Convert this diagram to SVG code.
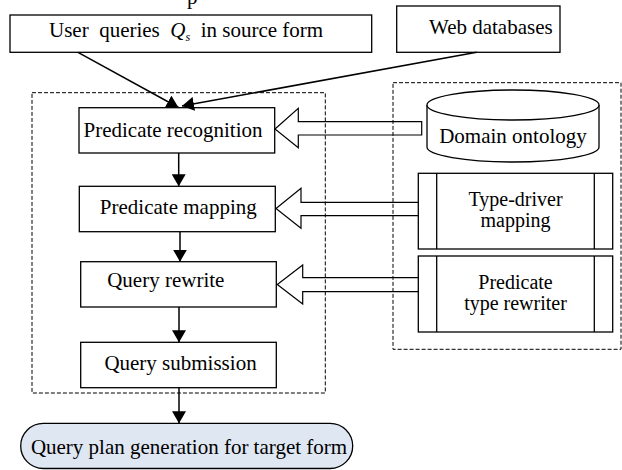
<svg xmlns="http://www.w3.org/2000/svg" width="622" height="470" viewBox="0 0 622 470">
<style>
  .box { fill: #fff; stroke: #000; stroke-width: 1.3; }
  .dash { fill: none; stroke: #000; stroke-width: 1; stroke-dasharray: 4 2; }
  .t { font-family: "Liberation Serif", "Times New Roman", serif; font-size: 21px; fill: #000; }
  .t2 { font-size: 20px; }
  .c { text-anchor: middle; }
  .line { stroke: #000; stroke-width: 1.5; fill: none; }
  .hollow { fill: none; stroke: #000; stroke-width: 1.2; stroke-linejoin: miter; }
</style>
<defs>
  <marker id="ah" markerUnits="userSpaceOnUse" markerWidth="12" markerHeight="14" viewBox="0 0 12 14" refX="12" refY="7" orient="auto">
    <path d="M0,0 L12,7 L0,14 z" fill="#000"/>
  </marker>
</defs>

<text class="t" x="187" y="3.5">p</text>

<!-- containers -->
<rect id="left-container" class="dash" x="32" y="92.7" width="293.3" height="300.3"/>
<rect id="right-container" class="dash" x="393" y="82.7" width="228" height="266.6"/>

<g id="user-queries">
  <rect class="box" x="10" y="15" width="361.7" height="37.3"/>
  <text class="t" x="49" y="36.5" xml:space="preserve">User  queries  <tspan font-style="italic">Q</tspan><tspan font-size="12" font-style="italic" dy="4">s</tspan><tspan dy="-4">  in source form</tspan></text>
</g>

<g id="web-databases">
  <rect class="box" x="396.7" y="6" width="163.3" height="46.3"/>
  <text class="t" x="429" y="34">Web databases</text>
</g>

<g id="predicate-recognition">
  <rect class="box" x="79" y="107.7" width="195.7" height="45.3"/>
  <text class="t c" x="173" y="136.5">Predicate recognition</text>
</g>

<g id="predicate-mapping">
  <rect class="box" x="79.3" y="186.3" width="196" height="45.4"/>
  <text class="t c" x="178.3" y="213.5">Predicate mapping</text>
</g>

<g id="query-rewrite">
  <rect class="box" x="80.7" y="261.7" width="195.6" height="45.3"/>
  <text class="t c" x="165.8" y="286.7">Query rewrite</text>
</g>

<g id="query-submission">
  <rect class="box" x="80.7" y="342.3" width="195.6" height="45.4"/>
  <text class="t c" x="180.5" y="370">Query submission</text>
</g>

<g id="query-plan">
  <rect x="20.7" y="423.3" width="332" height="45.2" rx="22.6" ry="22.6" fill="#dfe7f3" stroke="#000" stroke-width="1.3"/>
  <text class="t c" x="189" y="454.3">Query plan generation for target form</text>
</g>

<g id="domain-ontology">
  <path d="M427,105 L427,147 A86,15 0 0 0 599,147 L599,105" fill="#fff" stroke="#000" stroke-width="1.3"/>
  <ellipse cx="513" cy="105" rx="86" ry="15" fill="#fff" stroke="#000" stroke-width="1.3"/>
  <text class="t c" x="513" y="143">Domain ontology</text>
</g>

<g id="type-driver-mapping">
  <rect class="box" x="418.3" y="173.3" width="194.4" height="75.7"/>
  <line x1="436.7" y1="173.3" x2="436.7" y2="249" stroke="#000" stroke-width="1.3"/>
  <line x1="594.3" y1="173.3" x2="594.3" y2="249" stroke="#000" stroke-width="1.3"/>
  <text class="t t2 c" x="515.5" y="205.5">Type-driver</text>
  <text class="t t2 c" x="515.5" y="226.5">mapping</text>
</g>

<g id="predicate-type-rewriter">
  <rect class="box" x="418.3" y="256" width="194.4" height="76"/>
  <line x1="436.7" y1="256" x2="436.7" y2="332" stroke="#000" stroke-width="1.3"/>
  <line x1="594.3" y1="256" x2="594.3" y2="332" stroke="#000" stroke-width="1.3"/>
  <text class="t t2 c" x="515.5" y="289">Predicate</text>
  <text class="t t2 c" x="515.5" y="310">type rewriter</text>
</g>

<g id="connectors">
  <line class="line" x1="78" y1="52.3" x2="178.5" y2="107.5" marker-end="url(#ah)"/>
  <line class="line" x1="476.7" y1="52.3" x2="182" y2="106" marker-end="url(#ah)"/>
  <line class="line" x1="178.7" y1="153" x2="178.7" y2="186.3" marker-end="url(#ah)"/>
  <line class="line" x1="180" y1="231.7" x2="180" y2="261.7" marker-end="url(#ah)"/>
  <line class="line" x1="179" y1="307" x2="179" y2="342.3" marker-end="url(#ah)"/>
  <line class="line" x1="179" y1="387.7" x2="179" y2="423.3" marker-end="url(#ah)"/>
  <path class="hollow" d="M421.7,121.7 L298.3,121.7 L298.3,108.3 L275,129 L298.3,147.7 L298.3,135 L421.7,135 Z"/>
  <path class="hollow" d="M418.3,202.3 L301,202.3 L301,188.3 L276,208.5 L301,228.3 L301,215.7 L418.3,215.7"/>
  <path class="hollow" d="M418.3,277.7 L302.7,277.7 L302.7,265 L277.3,284.5 L302.7,304 L302.7,291.7 L418.3,291.7"/>
</g>
</svg>
